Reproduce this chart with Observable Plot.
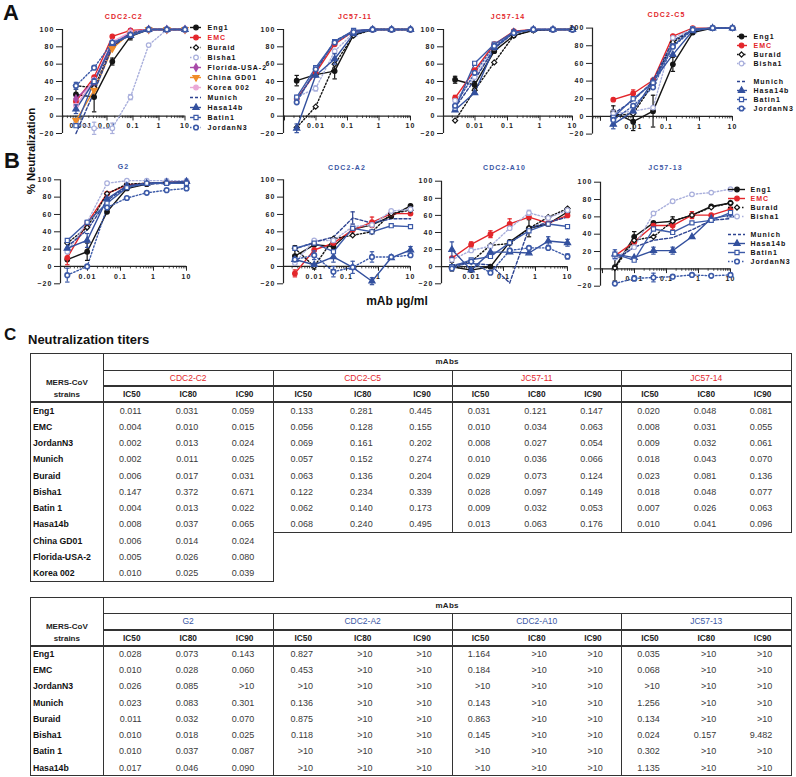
<!DOCTYPE html>
<html><head><meta charset="utf-8">
<script src="https://cdn.jsdelivr.net/npm/d3@7"></script>
<script src="https://cdn.jsdelivr.net/npm/@observablehq/plot@0.6"></script>
<style>
body{margin:0;background:#fff;}
#page{position:relative;width:796px;height:777px;overflow:hidden;background:#fff;font-family:"Liberation Sans",Arial,sans-serif;color:#111;}
.abs{position:absolute;}
.chart svg text{letter-spacing:1.1px;}
.legend svg text{letter-spacing:1px;}
table.t{position:absolute;border-collapse:collapse;table-layout:fixed;font-family:"Liberation Sans",Arial,sans-serif;}
table.t td{padding:0;white-space:nowrap;overflow:hidden;line-height:10px;}
</style></head><body><div id="page"></div>
<script>
// ---------------- DATA ----------------
const strains11 = ["Eng1","EMC","Buraid","Bisha1","Florida-USA-2","China GD01","Korea 002","Munich","Hasa14b","Batin1","JordanN3"];
const strains8 = ["Eng1","EMC","Buraid","Bisha1","Munich","Hasa14b","Batin1","JordanN3"];
const doses5fold = [0.00064, 0.0032, 0.016, 0.08, 0.4, 2, 10];
const doses4fold = [0.00244, 0.00977, 0.0391, 0.156, 0.625, 2.5, 10];
const yTicks = [-20, 0, 20, 40, 60, 80, 100];
const xLabelsC2 = ["0.001","0.01","0.1","1","10"];
const xLabels = ["0.01","0.1","1","10"];

const valC2 = {
  "Eng1": [25, 22, 63, 92, 100, 100, 100],
  "EMC": [17, 45, 92, 99, 100, 100, 100],
  "Buraid": [35, 33, 80, 96, 100, 100, 100],
  "Bisha1": [-8, -14, -14, 22, 82, 100, 100],
  "Florida-USA-2": [20, 40, 82, 97, 100, 100, 100],
  "China GD01": [-5, 30, 78, 96, 100, 100, 100],
  "Korea 002": [12, 42, 86, 97, 100, 100, 100],
  "Munich": [-20, 28, 80, 96, 100, 100, 100],
  "Hasa14b": [8, 40, 84, 93, 100, 100, 100],
  "Batin1": [-11, 40, 84, 93, 100, 100, 100],
  "JordanN3": [35, 56, 85, 94, 100, 100, 100]
};
const valJC11 = {
  "Eng1": [41, 48, 52, 94, 100, 100, 100],
  "EMC": [20, 50, 83, 98, 100, 100, 100],
  "Buraid": [-13, 11, 60, 93, 100, 100, 100],
  "Bisha1": [22, 32, 75, 96, 100, 100, 100],
  "Munich": [18, 52, 87, 98, 100, 100, 100],
  "Hasa14b": [-14, 47, 66, 95, 100, 100, 100],
  "Batin1": [22, 56, 86, 99, 100, 100, 100],
  "JordanN3": [16, 54, 85, 97, 100, 100, 100]
};
const valJC14 = {
  "Eng1": [42, 36, 75, 93, 99, 100, 100],
  "EMC": [21, 53, 83, 98, 100, 100, 100],
  "Buraid": [-5, 30, 62, 93, 99, 100, 100],
  "Bisha1": [18, 45, 79, 96, 100, 100, 100],
  "Munich": [10, 42, 78, 96, 100, 100, 100],
  "Hasa14b": [7, 27, 79, 97, 100, 100, 100],
  "Batin1": [9, 61, 83, 97, 100, 100, 100],
  "JordanN3": [12, 50, 81, 96, 100, 100, 100]
};
const valC5 = {
  "Eng1": [5, -6, 6, 59, 95, 100, 100],
  "EMC": [19, 26, 41, 91, 100, 100, 100],
  "Buraid": [1, 3, 37, 84, 98, 100, 100],
  "Bisha1": [3, 6, 10, 89, 99, 100, 100],
  "Munich": [3, 18, 40, 86, 98, 100, 100],
  "Hasa14b": [-9, 6, 40, 70, 97, 100, 100],
  "Batin1": [-1, 20, 38, 80, 99, 100, 100],
  "JordanN3": [-4, 12, 33, 79, 98, 100, 100]
};
const valG2 = {
  "Eng1": [8, 17, 63, 90, 95, 97, 97],
  "EMC": [10, 50, 84, 94, 96, 97, 98],
  "Buraid": [27, 45, 84, 95, 96, 97, 97],
  "Bisha1": [17, 51, 96, 99, 99, 99, 99],
  "Munich": [23, 42, 76, 92, 95, 96, 96],
  "Hasa14b": [21, 30, 78, 93, 96, 97, 98],
  "Batin1": [30, 51, 73, 91, 96, 96, 96],
  "JordanN3": [-10, 0, 68, 79, 85, 88, 90]
};
const valA2 = {
  "Eng1": [12, 25, 23, 43, 48, 58, 70],
  "EMC": [-8, 19, 27, 42, 51, 61, 61],
  "Buraid": [21, 0, 32, 36, 40, 61, 65],
  "Bisha1": [4, 30, 30, 46, 48, 64, 66],
  "Munich": [20, 28, 34, 56, 50, 55, 55],
  "Hasa14b": [8, 2, 11, -1, -17, 10, 19],
  "Batin1": [21, 27, 17, 44, 40, 47, 46],
  "JordanN3": [8, 13, -6, -1, 11, 11, 13]
};
const valA10 = {
  "Eng1": [0, -4, 0, 29, 45, 50, 64],
  "EMC": [10, 26, 38, 50, 58, 51, 60],
  "Buraid": [0, 6, 25, 27, 45, 58, 68],
  "Bisha1": [8, 19, 24, 45, 63, 57, 66],
  "Munich": [2, 4, 2, -19, 45, 52, 58],
  "Hasa14b": [20, -4, 17, 17, 16, 30, 28],
  "Batin1": [0, 8, 12, 28, 42, 50, 47],
  "JordanN3": [-2, 6, -7, 19, 22, 22, 12]
};
const valJC13 = {
  "Eng1": [2, 37, 53, 55, 62, 72, 76],
  "EMC": [15, 31, 50, 50, 62, 62, 69],
  "Buraid": [1, 33, 37, 55, 62, 71, 76],
  "Bisha1": [13, 25, 64, 78, 86, 88, 92],
  "Munich": [10, 25, 33, 36, 45, 56, 58],
  "Hasa14b": [17, 13, 21, 21, 37, 58, 62],
  "Batin1": [17, 10, 46, 42, 53, 56, 65],
  "JordanN3": [-17, -11, -10, -9, -7, -8, -7]
};
// error bars: [strain, dose index, half-width]
const errC2 = [["Eng1",0,6],["Eng1",1,17],["Eng1",2,4],["Eng1",3,4],["Bisha1",1,7],["Bisha1",2,6],["Bisha1",3,3],["JordanN3",0,4],["Hasa14b",0,5],["Batin1",1,3]];
const errJC11 = [["Eng1",0,6],["Eng1",2,9],["Hasa14b",0,5],["Hasa14b",2,6],["Bisha1",1,3]];
const errJC14 = [["Eng1",0,4],["Eng1",1,4],["EMC",0,3]];
const errC5 = [["Eng1",0,7],["Eng1",1,10],["Eng1",2,18],["Eng1",3,8],["EMC",1,4],["Hasa14b",0,5],["Bisha1",0,4]];
const errG2 = [["JordanN3",0,8],["Hasa14b",1,8],["Eng1",1,10],["EMC",0,8]];
const errA2 = [["Eng1",0,12],["EMC",0,4],["Munich",3,7],["Hasa14b",4,4],["Hasa14b",2,6],["Hasa14b",6,4],["JordanN3",1,5],["JordanN3",2,6],["JordanN3",3,7],["JordanN3",4,6],["EMC",4,6],["Buraid",1,3]];
const errA10 = [["Hasa14b",0,9],["Eng1",0,5],["Eng1",4,10],["EMC",3,6],["EMC",2,4],["EMC",1,3],["Hasa14b",5,5],["Hasa14b",6,4],["Eng1",6,5],["JordanN3",6,3],["Bisha1",4,3]];
const errJC13 = [["Eng1",0,16],["Eng1",1,6],["Eng1",3,5],["EMC",3,5],["Hasa14b",2,4],["Hasa14b",3,4],["JordanN3",1,3],["JordanN3",2,5],["Batin1",0,5],["EMC",4,4]];

// tables
const icLabels = ["IC50","IC80","IC90"];
const t1Strains = ["Eng1","EMC","JordanN3","Munich","Buraid","Bisha1","Batin 1","Hasa14b","China GD01","Florida-USA-2","Korea 002"];
const t1mAbs = ["CDC2-C2","CDC2-C5","JC57-11","JC57-14"];
const icCDC2_C2 = [["0.011","0.031","0.059"],["0.004","0.010","0.015"],["0.002","0.013","0.024"],["0.002","0.011","0.025"],["0.006","0.017","0.031"],["0.147","0.372","0.671"],["0.004","0.013","0.022"],["0.008","0.037","0.065"],["0.006","0.014","0.024"],["0.005","0.026","0.080"],["0.010","0.025","0.039"]];
const icCDC2_C5 = [["0.133","0.281","0.445"],["0.056","0.128","0.155"],["0.069","0.161","0.202"],["0.057","0.152","0.274"],["0.063","0.136","0.204"],["0.122","0.234","0.339"],["0.062","0.140","0.173"],["0.068","0.240","0.495"]];
const icJC57_11 = [["0.031","0.121","0.147"],["0.010","0.034","0.063"],["0.008","0.027","0.054"],["0.010","0.036","0.066"],["0.029","0.073","0.124"],["0.028","0.097","0.149"],["0.009","0.032","0.053"],["0.013","0.063","0.176"]];
const icJC57_14 = [["0.020","0.048","0.081"],["0.008","0.031","0.055"],["0.009","0.032","0.061"],["0.018","0.043","0.070"],["0.023","0.081","0.136"],["0.018","0.048","0.077"],["0.007","0.026","0.063"],["0.010","0.041","0.096"]];
const t2Strains = ["Eng1","EMC","JordanN3","Munich","Buraid","Bisha1","Batin 1","Hasa14b"];
const t2mAbs = ["G2","CDC2-A2","CDC2-A10","JC57-13"];
const icG2 = [["0.028","0.073","0.143"],["0.010","0.028","0.060"],["0.026","0.085",">10"],["0.023","0.083","0.301"],["0.011","0.032","0.070"],["0.010","0.018","0.025"],["0.010","0.037","0.087"],["0.017","0.046","0.090"]];
const icCDC2_A2 = [["0.827",">10",">10"],["0.453",">10",">10"],[">10",">10",">10"],["0.136",">10",">10"],["0.875",">10",">10"],["0.118",">10",">10"],[">10",">10",">10"],[">10",">10",">10"]];
const icCDC2_A10 = [["1.164",">10",">10"],["0.184",">10",">10"],[">10",">10",">10"],["0.143",">10",">10"],["0.863",">10",">10"],["0.145",">10",">10"],[">10",">10",">10"],[">10",">10",">10"]];
const icJC57_13 = [["0.035",">10",">10"],["0.068",">10",">10"],[">10",">10",">10"],["1.256",">10",">10"],["0.134",">10",">10"],["0.024","0.157","9.482"],["0.302",">10",">10"],["1.135",">10",">10"]];

// ---------------- STYLE ----------------
const RED = "#e3262b", BLUE = "#3b57a5";
const triDown = {draw(ctx, size) {
  const y = -Math.sqrt(size / (Math.sqrt(3) * 3)), s3 = Math.sqrt(3);
  ctx.moveTo(0, -y * 2); ctx.lineTo(-s3 * y, y); ctx.lineTo(s3 * y, y); ctx.closePath();
}};
const capSym = {draw(ctx, size) { const r = Math.sqrt(size / Math.PI); ctx.moveTo(-r, 0); ctx.lineTo(r, 0); }};
const styles = {
  "Eng1": {color:"#151515", symbol:"circle", fill:"#151515"},
  "EMC": {color:RED, symbol:"circle", fill:RED},
  "Buraid": {color:"#151515", dash:"1.5,2", symbol:"diamond2", fill:"white"},
  "Bisha1": {color:"#a9afdc", dash:"1.5,2", symbol:"circle", fill:"white"},
  "Florida-USA-2": {color:"#a84aa8", symbol:"diamond", fill:"#a84aa8"},
  "China GD01": {color:"#f08c28", symbol:triDown, fill:"#f08c28"},
  "Korea 002": {color:"#eaa8d6", symbol:"circle", fill:"#eaa8d6"},
  "Munich": {color:"#2d4391", dash:"3,2"},
  "Hasa14b": {color:"#33509e", symbol:"triangle", fill:"#33509e"},
  "Batin1": {color:"#3c5aa8", symbol:"square", fill:"white"},
  "JordanN3": {color:"#3c5aa8", dash:"1.5,2", symbol:"circle", fill:"white", sw:1.6}
};
const FONT = "'Liberation Sans', Arial, sans-serif";
const page = document.getElementById("page");

function place(el, left, top, cls) {
  const d = document.createElement("div");
  d.className = "abs " + (cls || "");
  d.style.left = left + "px"; d.style.top = top + "px";
  d.appendChild(el); page.appendChild(d); return d;
}

function makeChart(c) {
  const d0 = 10 / Math.pow(10, (c.xEnd - c.xStart) / c.decade);
  const mL = 34, mR = 10, mT = c.yTop - c.titleY + 8, mB = 4;
  const width = mL + (c.xEnd - c.xStart) + mR;
  const height = mT + (c.yBot - c.yTop) + mB;
  const majors = [], minors = [];
  for (let e = Math.floor(Math.log10(d0)); e <= 1; e++) for (let m = 1; m <= 9; m++) {
    const t = m * Math.pow(10, e);
    if (t >= d0 * 0.999 && t <= 10.001) (m === 1 ? majors : minors).push(t);
  }
  const rows = c.strains.flatMap(s => c.values[s].map((v, i) => ({strain: s, dose: c.doses[i], v})));
  const errRows = c.errs.map(([s, i, e]) => ({strain: s, dose: c.doses[i], v: c.values[s][i], e}));
  const marks = [
    Plot.ruleX([d0], {y1: -20, y2: 100, stroke: "#222", strokeWidth: 1.2}),
    Plot.ruleY([0], {stroke: "#222", strokeWidth: 1.2}),
    Plot.ruleX(majors, {y1: 0, y2: -5.5, stroke: "#222", strokeWidth: 1}),
    Plot.ruleX(minors, {y1: 0, y2: -2.8, stroke: "#222", strokeWidth: 0.8}),
    Plot.text(c.tickLabels, {x: d => +d, y: 0, dy: 10, text: d => d, fontSize: 7, fontWeight: "bold", fill: "#222"}),
    Plot.text([c.mab], {frameAnchor: "top", dy: -(c.yTop - c.titleY), dx: c.titleDx || 0, fill: c.titleColor, fontSize: 7, fontWeight: "bold"})
  ];
  for (const s of c.strains) {
    const st = styles[s];
    marks.push(Plot.line(rows.filter(r => r.strain === s), {x: "dose", y: "v", stroke: st.color, strokeWidth: 1.4, strokeDasharray: st.dash}));
  }
  for (const s of c.strains) {
    const st = styles[s];
    const er = errRows.filter(r => r.strain === s);
    if (er.length) {
      marks.push(Plot.ruleX(er, {x: "dose", y1: r => r.v - r.e, y2: r => r.v + r.e, stroke: st.color, strokeWidth: 1.2}));
      marks.push(Plot.dot(er.flatMap(r => [{dose: r.dose, y: r.v - r.e}, {dose: r.dose, y: r.v + r.e}]), {x: "dose", y: "y", symbol: capSym, r: 2.2, fill: "none", stroke: st.color, strokeWidth: 1.2}));
    }
    if (st.symbol) marks.push(Plot.dot(rows.filter(r => r.strain === s), {x: "dose", y: "v", symbol: st.symbol, r: 2.3, fill: st.fill, stroke: st.color, strokeWidth: st.sw || 1.2}));
  }
  const svg = Plot.plot({
    width, height, marginLeft: mL, marginRight: mR, marginTop: mT, marginBottom: mB,
    style: {fontFamily: FONT, fontSize: "7px", fontWeight: "bold", color: "#222", background: "transparent", overflow: "visible", maxWidth: "none"},
    x: {type: "log", domain: [d0, 10], axis: null},
    y: {domain: [-20, 100], ticks: yTicks, tickSize: 6, tickPadding: 2, label: null},
    marks
  });
  place(svg, c.xStart - mL, c.yTop - mT, "chart");
}

function makeLegend(l) {
  const keys = l.entries.map((s, i) => s || ("gap" + i));
  const items = l.entries.filter(Boolean);
  const top = l.y0 - 8;
  const W = 796 - l.left, H = l.yEnd + 8 - top;
  const marks = [];
  for (const s of items) {
    const st = styles[s];
    marks.push(Plot.ruleY([s], {y: d => d, x1: 0, x2: 1, stroke: st.color, strokeWidth: 1.4, strokeDasharray: st.dash}));
    if (st.symbol) marks.push(Plot.dot([s], {x: () => l.marker, y: d => d, symbol: st.symbol, r: 2.3, fill: st.fill, stroke: st.color, strokeWidth: st.sw || 1.2}));
    marks.push(Plot.text([s], {x: () => 1, y: d => d, dx: l.dx, text: d => d, textAnchor: "start", fill: s === "EMC" ? RED : "#111", fontSize: 7, fontWeight: "bold"}));
  }
  const svg = Plot.plot({
    width: W, height: H, marginTop: 0, marginBottom: 0, marginLeft: 0, marginRight: 0,
    style: {fontFamily: FONT, background: "transparent", overflow: "visible", maxWidth: "none"},
    x: {domain: [0, 1], range: [l.lineX0 - l.left, l.lineX1 - l.left], axis: null},
    y: {type: "point", domain: keys, range: [l.y0 - top, l.yEnd - top], axis: null},
    marks
  });
  place(svg, l.left, top, "legend");
}

function makeTable(t) {
  const widths = [72.7, 56.7, 56.7, 56.6, 59.7, 59.7, 59.6, 56.4, 56.5, 56.4, 56.6, 56.6, 56.5];
  const B = "1.4px solid #333", T = "2px solid #333";
  let h = "<colgroup>" + widths.map(w => `<col style="width:${w}px">`).join("") + "</colgroup>";
  h += `<tr style="height:16.7px"><td rowspan="3" style="border:${B};border-bottom:${T};vertical-align:bottom;text-align:center;font-weight:bold;font-size:8px;line-height:12px;color:#222">MERS-CoV<br>strains</td>`;
  h += `<td colspan="12" style="border-top:${B};border-right:${B};border-bottom:${B};text-align:center;font-weight:bold;font-size:8px;letter-spacing:0.3px;color:#222">mAbs</td></tr>`;
  h += `<tr style="height:15.7px">` + t.mAbs.map((m, g) => `<td colspan="3" style="border-left:${B};${g === 3 ? "border-right:" + B + ";" : ""}border-bottom:${T};text-align:center;font-size:8.5px;color:${t.color}">${m}</td>`).join("") + "</tr>";
  h += `<tr style="height:16px">` + t.mAbs.map((m, g) => icLabels.map((ic, k) => `<td style="${k === 0 ? "border-left:" + B + ";" : ""}${g === 3 && k === 2 ? "border-right:" + B + ";" : ""}border-bottom:${T};text-align:center;font-weight:bold;font-size:8.3px;color:#222">${ic}</td>`).join("")).join("") + "</tr>";
  t.strains.forEach((s, r) => {
    const last = r === t.strains.length - 1;
    let row = `<tr style="height:16.3px"><td style="border-left:${B};border-right:${B};${last ? "border-bottom:" + B + ";" : ""}font-weight:bold;font-size:8.7px;padding-left:2px;color:#111">${s}</td>`;
    t.cols.forEach((col, g) => {
      if (r >= col.length) {
        if (g === 1) row += `<td colspan="${3 * (t.cols.length - 1)}" style="border:none"></td>`;
        return;
      }
      const lastInGroup = r === col.length - 1;
      col[r].forEach((v, k) => {
        const w = widths[1 + g * 3 + k];
        row += `<td style="${k === 0 ? "border-left:" + B + ";" : ""}${k === 2 && (g === t.cols.length - 1 || t.cols[g + 1].length <= r) ? "border-right:" + B + ";" : ""}${lastInGroup ? "border-bottom:" + B + ";" : ""}text-align:right;padding-right:${(w / 2 - 10).toFixed(1)}px;font-size:9px;color:#3a3a3a">${v}</td>`;
      });
    });
    row += "</tr>";
    h += row;
  });
  const table = document.createElement("table");
  table.className = "t";
  table.innerHTML = h;
  table.style.left = "30px"; table.style.top = t.top + "px";
  page.appendChild(table);
}

function addText(txt, left, top, css) {
  const d = document.createElement("div");
  d.className = "abs"; d.textContent = txt;
  d.style.cssText += `left:${left}px;top:${top}px;` + css;
  page.appendChild(d);
}

// ---------------- BUILD ----------------
addText("A", 3, 0, "font-size:22px;font-weight:bold;");
addText("B", 4, 148, "font-size:22px;font-weight:bold;");
addText("C", 4, 325, "font-size:17px;font-weight:bold;");
addText("Neutralization titers", 28, 332, "font-size:13px;font-weight:bold;");
addText("% Neutralization", 31, 151, "font-size:11.5px;font-weight:bold;letter-spacing:-0.2px;white-space:nowrap;transform:translate(-50%,-50%) rotate(-90deg);");
addText("mAb µg/ml", 397, 301, "font-size:12px;font-weight:bold;white-space:nowrap;transform:translate(-50%,-50%);");

const charts = [
  {mab: "CDC2-C2", strains: strains11, doses: doses5fold, values: valC2, errs: errC2, xStart: 62, xEnd: 184.5, decade: 26, yTop: 29, yBot: 133, titleY: 14, titleColor: RED, tickLabels: xLabelsC2},
  {mab: "JC57-11", strains: strains8, doses: doses4fold, values: valJC11, errs: errJC11, xStart: 283, xEnd: 410, decade: 31.5, yTop: 29, yBot: 133, titleY: 14, titleColor: RED, tickLabels: xLabels, titleDx: 8},
  {mab: "JC57-14", strains: strains8, doses: doses4fold, values: valJC14, errs: errJC14, xStart: 443, xEnd: 572, decade: 32.5, yTop: 29, yBot: 133, titleY: 14, titleColor: RED, tickLabels: xLabels},
  {mab: "CDC2-C5", strains: strains8, doses: doses4fold, values: valC5, errs: errC5, xStart: 592, xEnd: 732, decade: 33, yTop: 27.3, yBot: 133.3, titleY: 11.7, titleColor: RED, tickLabels: xLabels, titleDx: 4},
  {mab: "G2", strains: strains8, doses: doses4fold, values: valG2, errs: errG2, xStart: 60, xEnd: 186, decade: 33, yTop: 179.3, yBot: 283.3, titleY: 164, titleColor: BLUE, tickLabels: xLabels},
  {mab: "CDC2-A2", strains: strains8, doses: doses4fold, values: valA2, errs: errA2, xStart: 283, xEnd: 410, decade: 32, yTop: 179.3, yBot: 283.3, titleY: 165, titleColor: BLUE, tickLabels: xLabels},
  {mab: "CDC2-A10", strains: strains8, doses: doses4fold, values: valA10, errs: errA10, xStart: 441, xEnd: 567, decade: 32, yTop: 180.7, yBot: 283.3, titleY: 165, titleColor: BLUE, tickLabels: xLabels},
  {mab: "JC57-13", strains: strains8, doses: doses4fold, values: valJC13, errs: errJC13, xStart: 600, xEnd: 730, decade: 32, yTop: 181.7, yBot: 285.7, titleY: 165, titleColor: BLUE, tickLabels: xLabels}
];
charts.forEach(makeChart);

const legendShort = ["Eng1","EMC","Buraid","Bisha1",null,"Munich","Hasa14b","Batin1","JordanN3"];
makeLegend({entries: strains11, left: 186, lineX0: 190, lineX1: 201, marker: 0.5, dx: 6, y0: 18.7, yEnd: 135});
makeLegend({entries: legendShort, left: 733, lineX0: 737, lineX1: 747, marker: 0.4, dx: 6, y0: 29, yEnd: 115.5});
makeLegend({entries: legendShort, left: 724, lineX0: 728, lineX1: 745, marker: 0.5, dx: 5, y0: 182, yEnd: 268.7});

makeTable({top: 353.3, mAbs: t1mAbs, color: RED, strains: t1Strains, cols: [icCDC2_C2, icCDC2_C5, icJC57_11, icJC57_14]});
makeTable({top: 596.7, mAbs: t2mAbs, color: BLUE, strains: t2Strains, cols: [icG2, icCDC2_A2, icCDC2_A10, icJC57_13]});
</script></body></html>
